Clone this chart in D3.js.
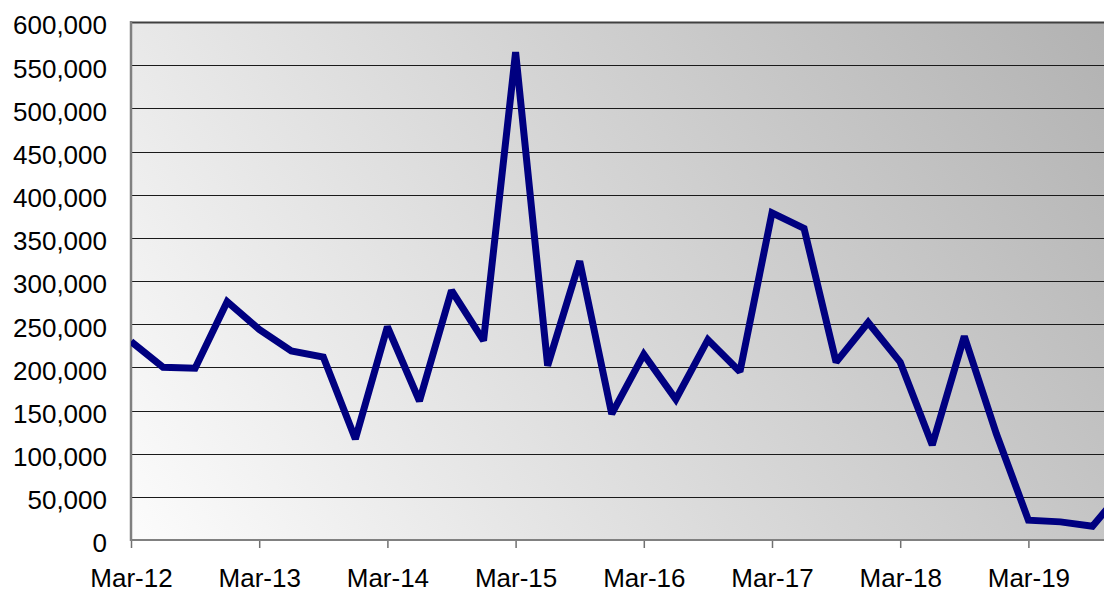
<!DOCTYPE html>
<html>
<head>
<meta charset="utf-8">
<script src="https://cdn.jsdelivr.net/npm/d3@7"></script>
<style>
  html, body { margin: 0; padding: 0; background: #ffffff; }
  svg { display: block; }
  text { font-family: "Liberation Sans", Arial, sans-serif; fill: #000; }
</style>
</head>
<body>
<svg id="chart" width="1104" height="589"></svg>
<script>
const categories = [
  "Mar-12","Jun-12","Sep-12","Dec-12",
  "Mar-13","Jun-13","Sep-13","Dec-13",
  "Mar-14","Jun-14","Sep-14","Dec-14",
  "Mar-15","Jun-15","Sep-15","Dec-15",
  "Mar-16","Jun-16","Sep-16","Dec-16",
  "Mar-17","Jun-17","Sep-17","Dec-17",
  "Mar-18","Jun-18","Sep-18","Dec-18",
  "Mar-19","Jun-19","Sep-19","Dec-19"
];
const values = [
  230000, 200000, 199000, 276000,
  244000, 219000, 212000, 117000,
  247000, 161000, 289000, 231000,
  565000, 202000, 323000, 146000,
  215000, 163000, 232000, 195000,
  379000, 361000, 206000, 252000,
  206000, 110000, 236000, 123000,
  23000, 21000, 16000, 60000
];
const xTickLabels = ["Mar-12","Mar-13","Mar-14","Mar-15","Mar-16","Mar-17","Mar-18","Mar-19"];
const yTicks = [0,50000,100000,150000,200000,250000,300000,350000,400000,450000,500000,550000,600000];

const svg = d3.select("#chart");
const plotL = 131, plotT = 22, plotB = 540, plotR = 1104;

const x = d3.scalePoint().domain(categories).range([plotL, plotL + 32.05 * (categories.length - 1)]);
const y = d3.scaleLinear().domain([0, 600000]).range([plotB, plotT]);

const defs = svg.append("defs");
const grad = defs.append("linearGradient")
  .attr("id", "bg")
  .attr("gradientUnits", "userSpaceOnUse")
  .attr("x1", plotL).attr("y1", plotB)
  .attr("x2", 1040).attr("y2", -74);
grad.append("stop").attr("offset", 0).attr("stop-color", "#fcfcfc");
grad.append("stop").attr("offset", 1).attr("stop-color", "#b2b2b2");

defs.append("clipPath").attr("id", "plotclip")
  .append("rect").attr("x", plotL).attr("y", plotT - 5).attr("width", plotR - plotL).attr("height", plotB - plotT + 10);

// plot background
svg.append("rect")
  .attr("x", plotL).attr("y", plotT)
  .attr("width", plotR - plotL).attr("height", plotB - plotT)
  .attr("fill", "url(#bg)");

// gridlines
svg.append("g")
  .selectAll("line")
  .data(yTicks.filter(d => d > 0))
  .join("line")
  .attr("x1", plotL).attr("x2", plotR)
  .attr("y1", d => Math.round(y(d)) + 0.5).attr("y2", d => Math.round(y(d)) + 0.5)
  .attr("stroke", d => d === 600000 ? "#404040" : "#1a1a1a")
  .attr("stroke-width", d => d === 600000 ? 2 : 1);

// y axis
const yAxis = d3.axisLeft(y).tickValues(yTicks).tickSize(0).tickPadding(24)
  .tickFormat(d3.format(","));
const gy = svg.append("g").attr("transform", `translate(${plotL},0)`).call(yAxis);
gy.select(".domain").remove();
gy.selectAll("text")
  .attr("font-size", "26px")
  .attr("font-family", "'Liberation Sans', Arial, sans-serif")
  .attr("dy", "0.46em");

// x axis
const xAxis = d3.axisBottom(x).tickValues(xTickLabels).tickSize(8).tickPadding(21);
const gx = svg.append("g").attr("transform", `translate(0,${plotB})`).call(xAxis);
gx.select(".domain").remove();
gx.selectAll(".tick line").attr("stroke", "#707070").attr("stroke-width", 1.5);
gx.selectAll("text")
  .attr("font-size", "26px")
  .attr("font-family", "'Liberation Sans', Arial, sans-serif")
  .attr("dy", "0.71em");

// axis lines
svg.append("line").attr("x1", plotL).attr("x2", plotR).attr("y1", plotB).attr("y2", plotB)
  .attr("stroke", "#808080").attr("stroke-width", 2);
svg.append("line").attr("x1", plotL).attr("x2", plotL).attr("y1", plotT - 1).attr("y2", plotB + 1)
  .attr("stroke", "#808080").attr("stroke-width", 2.5);

// data line
const line = d3.line().x((d, i) => x(categories[i])).y(d => y(d));
svg.append("path")
  .datum(values)
  .attr("clip-path", "url(#plotclip)")
  .attr("d", line)
  .attr("fill", "none")
  .attr("stroke", "#000080")
  .attr("stroke-width", 7)
  .attr("stroke-linejoin", "miter")
  .attr("stroke-miterlimit", 2);
</script>
</body>
</html>
